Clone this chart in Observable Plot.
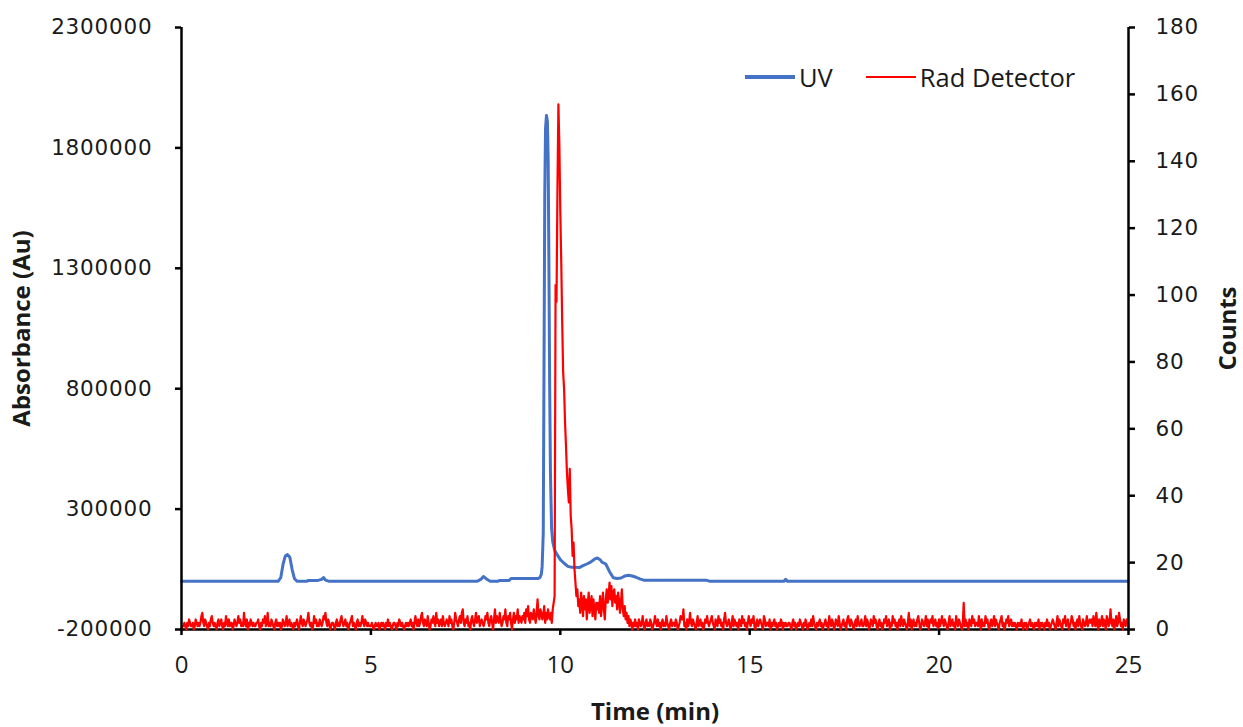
<!DOCTYPE html>
<html>
<head>
<meta charset="utf-8">
<script src="https://cdn.jsdelivr.net/npm/d3@7"></script>
<script src="https://cdn.jsdelivr.net/npm/@observablehq/plot@0.6"></script>
<style>
  html, body { margin: 0; padding: 0; background: #fff; }
  #wrap { position: relative; width: 1243px; height: 727px; }
  #legend { position: absolute; left: 745px; top: 60px; display: flex; align-items: center;
    font-family: "Open Sans", sans-serif; font-size: 25.5px; color: #1a1a1a; }
  #legend .sw { display: inline-block; width: 50px; margin-right: 4px; }
  #legend .item { display: flex; align-items: center; }
  g[aria-label="y-axis tick label"] text { letter-spacing: 0.8px; }
</style>
</head>
<body>
<div id="wrap">
  <div id="chart"></div>
  <div id="legend">
    <span class="item"><span class="sw" style="height:3.5px;background:#4472C4"></span><span>UV</span></span>
    <span class="item" style="margin-left:33px"><span class="sw" style="height:2px;background:#FF0000"></span><span>Rad Detector</span></span>
  </div>
</div>
<script>
// ---- Data ----
const xTicks = [0, 5, 10, 15, 20, 25];
const leftTicks = [-200000, 300000, 800000, 1300000, 1800000, 2300000];
const rightTicks = [0, 20, 40, 60, 80, 100, 120, 140, 160, 180];

// UV trace (Absorbance, left axis)
const uvTime = [0, 2.55, 2.62, 2.68, 2.74, 2.8, 2.86, 2.92, 2.98, 3.05, 3.3, 3.35, 3.6, 3.7, 3.75, 3.8, 3.9,
  7.8, 7.9, 7.97, 8.05, 8.15, 8.35, 8.4, 8.65, 8.7, 9.42, 9.46, 9.5, 9.52, 9.55, 9.57, 9.59, 9.61, 9.635,
  9.66, 9.68, 9.7, 9.72, 9.74, 9.77, 9.8, 9.85, 9.9, 10.0, 10.1, 10.2, 10.3, 10.4, 10.5, 10.6, 10.7, 10.8,
  10.9, 10.98, 11.05, 11.1, 11.2, 11.3, 11.4, 11.5, 11.6, 11.7, 11.8, 11.9, 12.0, 12.1, 12.2, 13.85, 13.95,
  15.9, 15.95, 16.0, 25];
const uvValue = [0, 0, 15000, 70000, 105000, 111000, 100000, 50000, 12000, 0, 0, 4000, 4000, 8000, 16000, 5000, 0,
  0, 8000, 20000, 10000, 0, 0, 4000, 4000, 12000, 12000, 15000, 30000, 60000, 200000, 900000, 1600000, 1880000, 1935000,
  1910000, 1750000, 1300000, 800000, 450000, 220000, 165000, 130000, 115000, 90000, 75000, 62000, 58000, 58000, 57000, 65000, 72000, 80000,
  92000, 97000, 90000, 80000, 72000, 40000, 15000, 12000, 14000, 22000, 25000, 22000, 17000, 10000, 5000, 5000, 0,
  0, 8000, 0, 0];

// Rad detector trace (Counts, right axis), sampled every 0.025 min from 0 to 25 (one row per minute)
const radStart = 0, radStep = 0.025;
const radCounts = [
  0,1,1,2,1,0,2,1,3,2, 1,1,2,0,1,3,2,1,2,1, 2,4,5,2,1,3,2,1,0,2, 1,3,4,2,1,2,1,0,2,3,
  1,2,3,1,0,2,1,4,2,1, 3,1,2,2,0,1,3,2,1,2, 4,2,3,1,2,1,5,2,1,3, 0,2,1,3,2,1,2,1,1,2,
  2,3,1,0,2,1,3,2,4,1, 2,5,1,2,1,3,2,1,0,2, 3,1,2,1,2,0,1,3,2,1, 2,4,1,2,3,1,2,1,0,2,
  1,2,3,1,0,2,4,2,1,3, 2,1,2,3,5,2,1,2,0,1, 4,2,3,1,2,1,3,2,1,2, 4,3,5,2,1,3,2,0,1,2,
  2,1,0,2,3,1,2,1,3,4, 2,1,2,3,1,2,0,1,2,3, 4,1,2,1,0,2,3,1,2,1, 2,4,2,1,3,2,1,2,1,1,
  1,2,1,0,1,2,1,1,2,0, 1,2,1,2,1,0,2,1,3,1, 2,1,0,1,2,2,1,0,2,1, 3,2,1,2,1,0,1,2,1,2,
  1,2,3,1,2,0,2,4,2,1, 3,1,2,4,5,2,1,3,2,1, 4,2,0,1,3,2,4,2,1,5, 2,3,1,2,3,1,4,2,1,2,
  3,2,1,4,2,3,1,0,2,5, 3,2,1,3,4,2,5,6,2,1, 3,2,4,1,2,0,3,4,2,1, 3,5,2,3,4,1,2,3,2,1,
  2,4,3,5,2,1,3,4,2,0, 3,6,2,4,3,2,5,3,1,2, 4,3,6,2,1,4,3,5,2,0, 3,5,2,4,3,6,2,4,3,2,
  4,3,5,2,6,4,7,3,2,5, 4,3,6,4,2,5,9,4,3,6, 5,3,4,7,2,5,3,6,4,3, 5,2,6,8,10,103,98,132,157,145,
  125,110,92,77,72,62,55,47,42,38, 48,34,30,22,26,18,14,10,12,7, 9,5,11,8,4,10,6,9,3,8, 11,5,7,10,4,9,6,3,8,6,
  8,5,10,4,7,11,6,3,9,12, 8,10,14,9,13,7,11,12,8,10, 6,11,9,5,8,12,6,4,7,3, 5,2,4,1,3,2,0,2,1,3,
  1,2,0,3,2,1,2,4,1,0, 2,3,1,2,1,3,2,0,1,2, 4,2,1,3,1,2,0,2,3,1, 2,1,4,2,1,0,2,3,1,2,
  2,1,3,2,0,1,2,4,3,3, 6,1,2,0,3,1,2,5,2,1, 3,2,1,0,2,4,1,2,3,1, 2,0,1,3,2,4,2,1,2,3,
  4,2,1,0,3,2,1,4,2,3, 1,2,0,3,5,2,1,2,3,1, 0,2,4,1,3,2,1,2,0,3, 2,1,4,2,3,1,2,0,2,4,
  2,1,3,2,4,1,0,2,3,1, 2,3,2,1,0,4,3,1,2,2, 1,3,0,2,1,2,3,1,2,0, 1,2,1,3,2,0,2,1,2,1,
  1,2,2,1,0,2,3,1,2,0, 1,2,1,3,2,1,0,2,1,3, 2,0,1,2,1,3,1,4,2,1, 0,2,1,2,3,1,2,0,1,2,
  3,1,2,0,4,2,1,3,2,0, 1,3,2,1,4,2,0,1,2,3, 1,2,0,3,4,2,1,3,2,1, 0,2,3,1,4,2,1,2,3,1,
  1,2,4,1,3,2,0,1,3,2, 1,4,2,3,1,0,2,3,1,2, 0,1,3,2,4,1,2,3,0,2, 1,4,2,3,1,2,0,2,3,1,
  4,2,1,3,2,1,0,2,5,1, 3,0,2,3,1,2,1,3,4,2, 0,1,3,2,1,2,4,1,3,0, 2,3,2,4,1,2,3,1,2,0,
  3,1,2,4,2,1,3,2,1,0, 2,4,1,2,3,1,2,0,4,2, 1,3,2,1,0,2,8,1,3,1, 2,0,3,2,1,4,2,3,1,2,
  2,1,4,2,0,3,1,2,1,4, 2,3,1,0,2,3,1,2,4,1, 3,2,1,0,2,3,4,1,2,0, 1,3,2,4,1,2,3,1,2,1,
  2,1,0,2,1,2,1,3,1,0, 2,1,2,0,1,2,3,1,2,1, 0,2,1,2,1,3,0,2,1,2, 1,0,2,1,3,1,2,0,1,2,
  3,2,1,0,2,4,1,3,2,1, 0,3,2,4,1,2,3,0,1,2, 4,3,1,2,0,2,3,1,4,2, 1,0,3,2,1,2,4,1,2,3,
  2,3,1,4,2,1,5,2,0,3, 1,2,4,1,3,2,0,4,3,1, 2,6,2,1,3,0,2,4,1,2, 5,3,1,2,0,3,2,1,3,2,
  1
];

// ---- Build tables ----
const leftMin = -200000, leftMax = 2300000, rightMax = 180;
const toLeft = c => leftMin + c * (leftMax - leftMin) / rightMax;
const fromLeft = v => (v - leftMin) * rightMax / (leftMax - leftMin);

const uv = uvTime.map((t, i) => ({t, v: uvValue[i]}));
const rad = radCounts.map((c, i) => ({t: radStart + i * radStep, c}));

const tickFont = "DejaVu Sans, sans-serif";
const titleFont = "Open Sans, sans-serif";

const chart = Plot.plot({
  width: 1243,
  height: 727,
  marginLeft: 181,
  marginRight: 115,
  marginTop: 27,
  marginBottom: 98,
  style: {background: "white", color: "black", overflow: "visible"},
  x: {domain: [0, 25]},
  y: {domain: [leftMin, leftMax]},
  marks: [
    Plot.ruleY([leftMin], {stroke: "black", strokeWidth: 2.5}),
    Plot.line(uv, {x: "t", y: "v", stroke: "#4472C4", strokeWidth: 3}),
    Plot.line(rad, {x: "t", y: d => toLeft(d.c), stroke: "#FF0000", strokeWidth: 2.2}),
    Plot.ruleX([0, 25], {stroke: "black", strokeWidth: 2.5}),
    Plot.axisY(leftTicks, {anchor: "left", tickSize: 6, tickPadding: 23, strokeWidth: 2.5,
      tickFormat: d => String(d), label: null, fontSize: 21.5, fontFamily: tickFont, fill: "#1a1a1a"}),
    Plot.axisY(rightTicks.map(toLeft), {anchor: "right", tickSize: 6, tickPadding: 21, strokeWidth: 2.5,
      tickFormat: d => String(Math.round(fromLeft(d))), label: null, fontSize: 21.5, fontFamily: tickFont, fill: "#1a1a1a"}),
    Plot.axisX(xTicks, {anchor: "bottom", tickSize: 6, tickPadding: 20, strokeWidth: 2.5,
      tickFormat: d => String(d), label: null, fontSize: 24, fontFamily: titleFont, fill: "#1a1a1a"}),
    Plot.text(["Time (min)"], {frameAnchor: "bottom", dy: 90, fontSize: 24, fontWeight: "bold", fontFamily: titleFont, fill: "#1a1a1a"}),
    Plot.text(["Absorbance (Au)"], {frameAnchor: "left", textAnchor: "middle", dx: -159, rotate: -90, fontSize: 24, fontWeight: "bold", fontFamily: titleFont, fill: "#1a1a1a"}),
    Plot.text(["Counts"], {frameAnchor: "right", textAnchor: "middle", dx: 100, rotate: -90, fontSize: 24, fontWeight: "bold", fontFamily: titleFont, fill: "#1a1a1a"})
  ]
});
document.getElementById("chart").appendChild(chart);
</script>
</body>
</html>
